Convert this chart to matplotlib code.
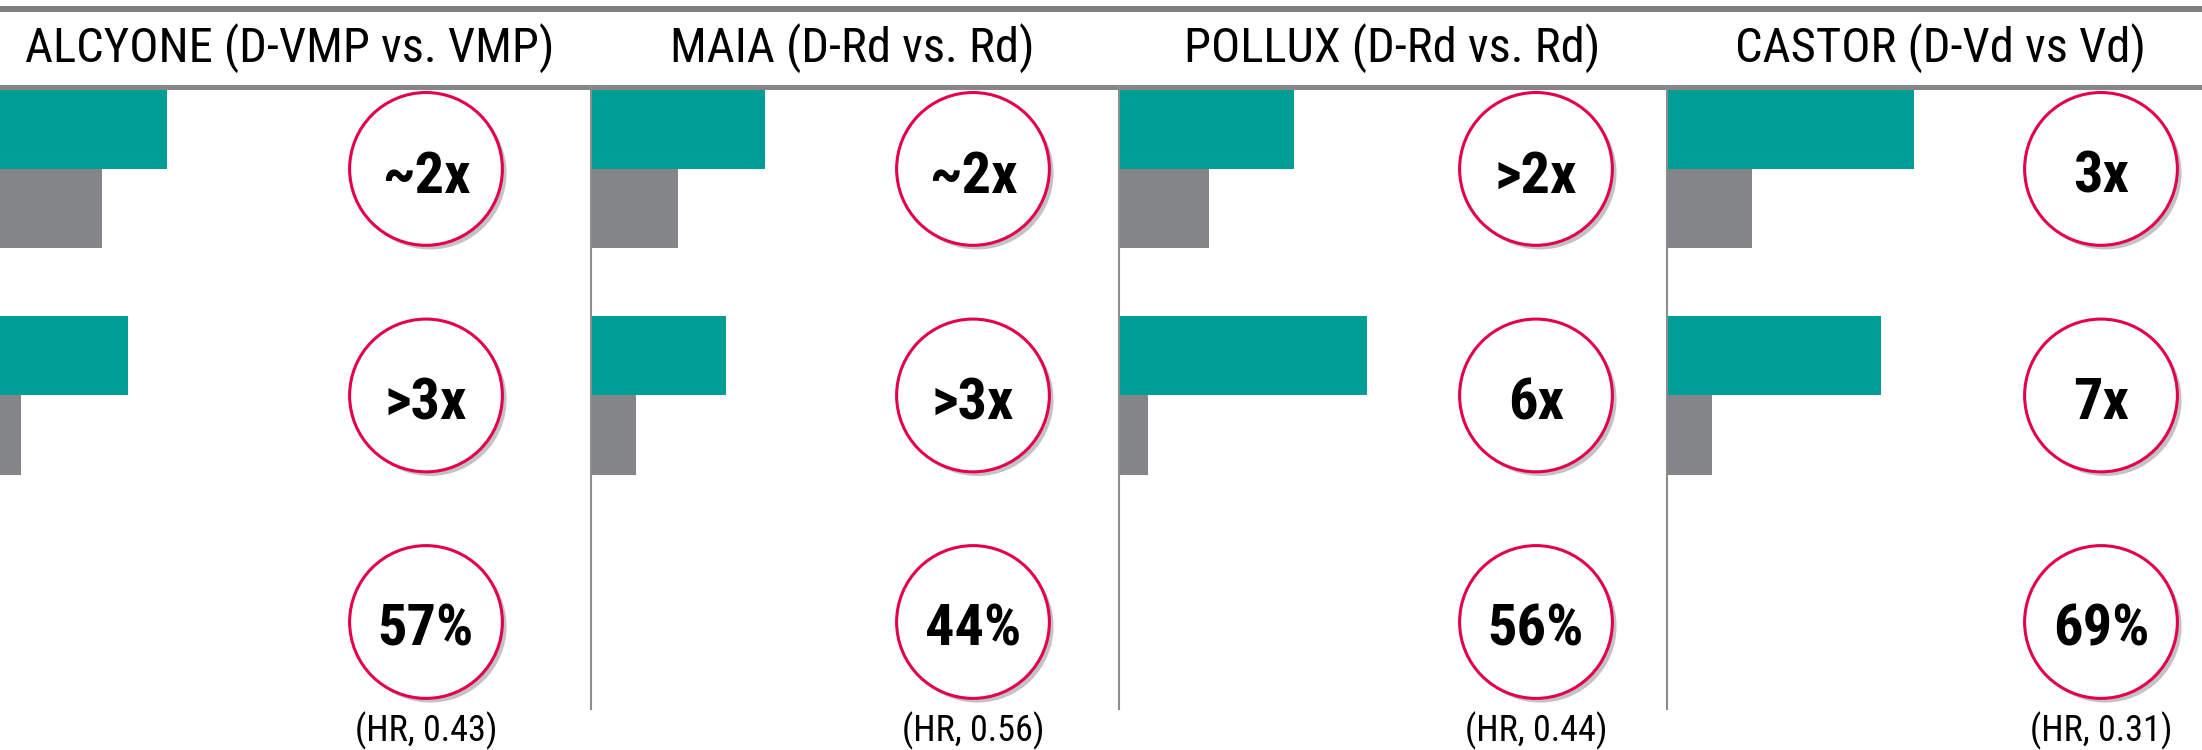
# 四个试验的条形图 + 圆圈标注
import matplotlib
matplotlib.use('Agg')
import matplotlib.pyplot as plt
import matplotlib.patheffects as pe
from matplotlib.lines import Line2D

# 数据（条形长度按图片读出，同一比例）
trials = ['ALCYONE (D-VMP vs. VMP)', 'MAIA (D-Rd vs. Rd)',
          'POLLUX (D-Rd vs. Rd)', 'CASTOR (D-Vd vs Vd)']
dara_row1 = [34.0, 34.8, 35.0, 49.4]
ctrl_row1 = [21.0, 17.4, 18.0, 17.0]
dara_row2 = [26.2, 27.0, 49.6, 42.8]
ctrl_row2 = [4.8, 9.0, 5.8, 9.0]
fold_row1 = ['~2x', '~2x', '>2x', '3x']
fold_row2 = ['>3x', '>3x', '6x', '7x']
risk_cut = ['57%', '44%', '56%', '69%']
hr_labels = ['(HR, 0.43)', '(HR, 0.56)', '(HR, 0.44)', '(HR, 0.31)']

# 字体（窄体）
narrow = ['Roboto Condensed', 'Liberation Sans', 'DejaVu Sans']

W, H = 2202, 750
teal = '#009E96'
grey = '#848589'
red = '#E2004F'
line_grey = '#868686'

# 版面（像素）
panel_x0 = [-3, 591, 1119, 1667]
circle_x = [85.8, 76.4, 83.4, 86.8]
title_x = [290, 852, 1392, 1940]
ax_top, ax_bottom = 86, 709

fig = plt.figure(figsize=(W / 100, H / 100), dpi=100)

# 顶部横线
fig.add_artist(Line2D([0, 1], [1 - 9 / H] * 2, transform=fig.transFigure,
                      color='#7f7f7f', lw=4.3, zorder=-1))
fig.add_artist(Line2D([0, 1], [1 - 86.5 / H] * 2, transform=fig.transFigure,
                      color=line_grey, lw=3.6, zorder=-1))

for i in range(4):
    ax = fig.add_axes([panel_x0[i] / W, 1 - ax_bottom / H, 540 / W, (ax_bottom - ax_top) / H])
    ax.patch.set_visible(False)
    ax.set_xlim(0, 108)
    ax.set_ylim(2.384, -0.366)

    rows = [0, 1]
    ax.barh([r - 0.175 for r in rows], [dara_row1[i], dara_row2[i]], height=0.35, color=teal)
    ax.barh([r + 0.175 for r in rows], [ctrl_row1[i], ctrl_row2[i]], height=0.35, color=grey)

    # 圆圈
    ax.scatter([circle_x[i]] * 3, [0, 1, 2], s=12100, facecolor='white', edgecolor=red,
               linewidth=2.2, clip_on=False, zorder=3,
               path_effects=[pe.SimplePatchShadow(offset=(3, -3), shadow_rgbFace='#888888', alpha=0.5),
                             pe.Normal()])
    for r, lab in enumerate([fold_row1[i], fold_row2[i], risk_cut[i]]):
        ax.text(circle_x[i], r + 0.01, lab, ha='center', va='center_baseline', fontsize=42,
                fontweight='bold', family=narrow, zorder=4)
    ax.text(circle_x[i], 2.48, hr_labels[i], ha='center', va='center', fontsize=26,
            family=narrow)

    for s in ['top', 'right', 'bottom']:
        ax.spines[s].set_visible(False)
    ax.spines['left'].set_color('#8c8c8c')
    ax.spines['left'].set_linewidth(1.5)
    if i == 0:
        ax.spines['left'].set_visible(False)
    ax.set_xticks([])
    ax.set_yticks([])

    fig.text(title_x[i] / W, 1 - 48 / H, trials[i], ha='center', va='center',
             fontsize=35, family=narrow)

plt.savefig('out.png', dpi=100)
